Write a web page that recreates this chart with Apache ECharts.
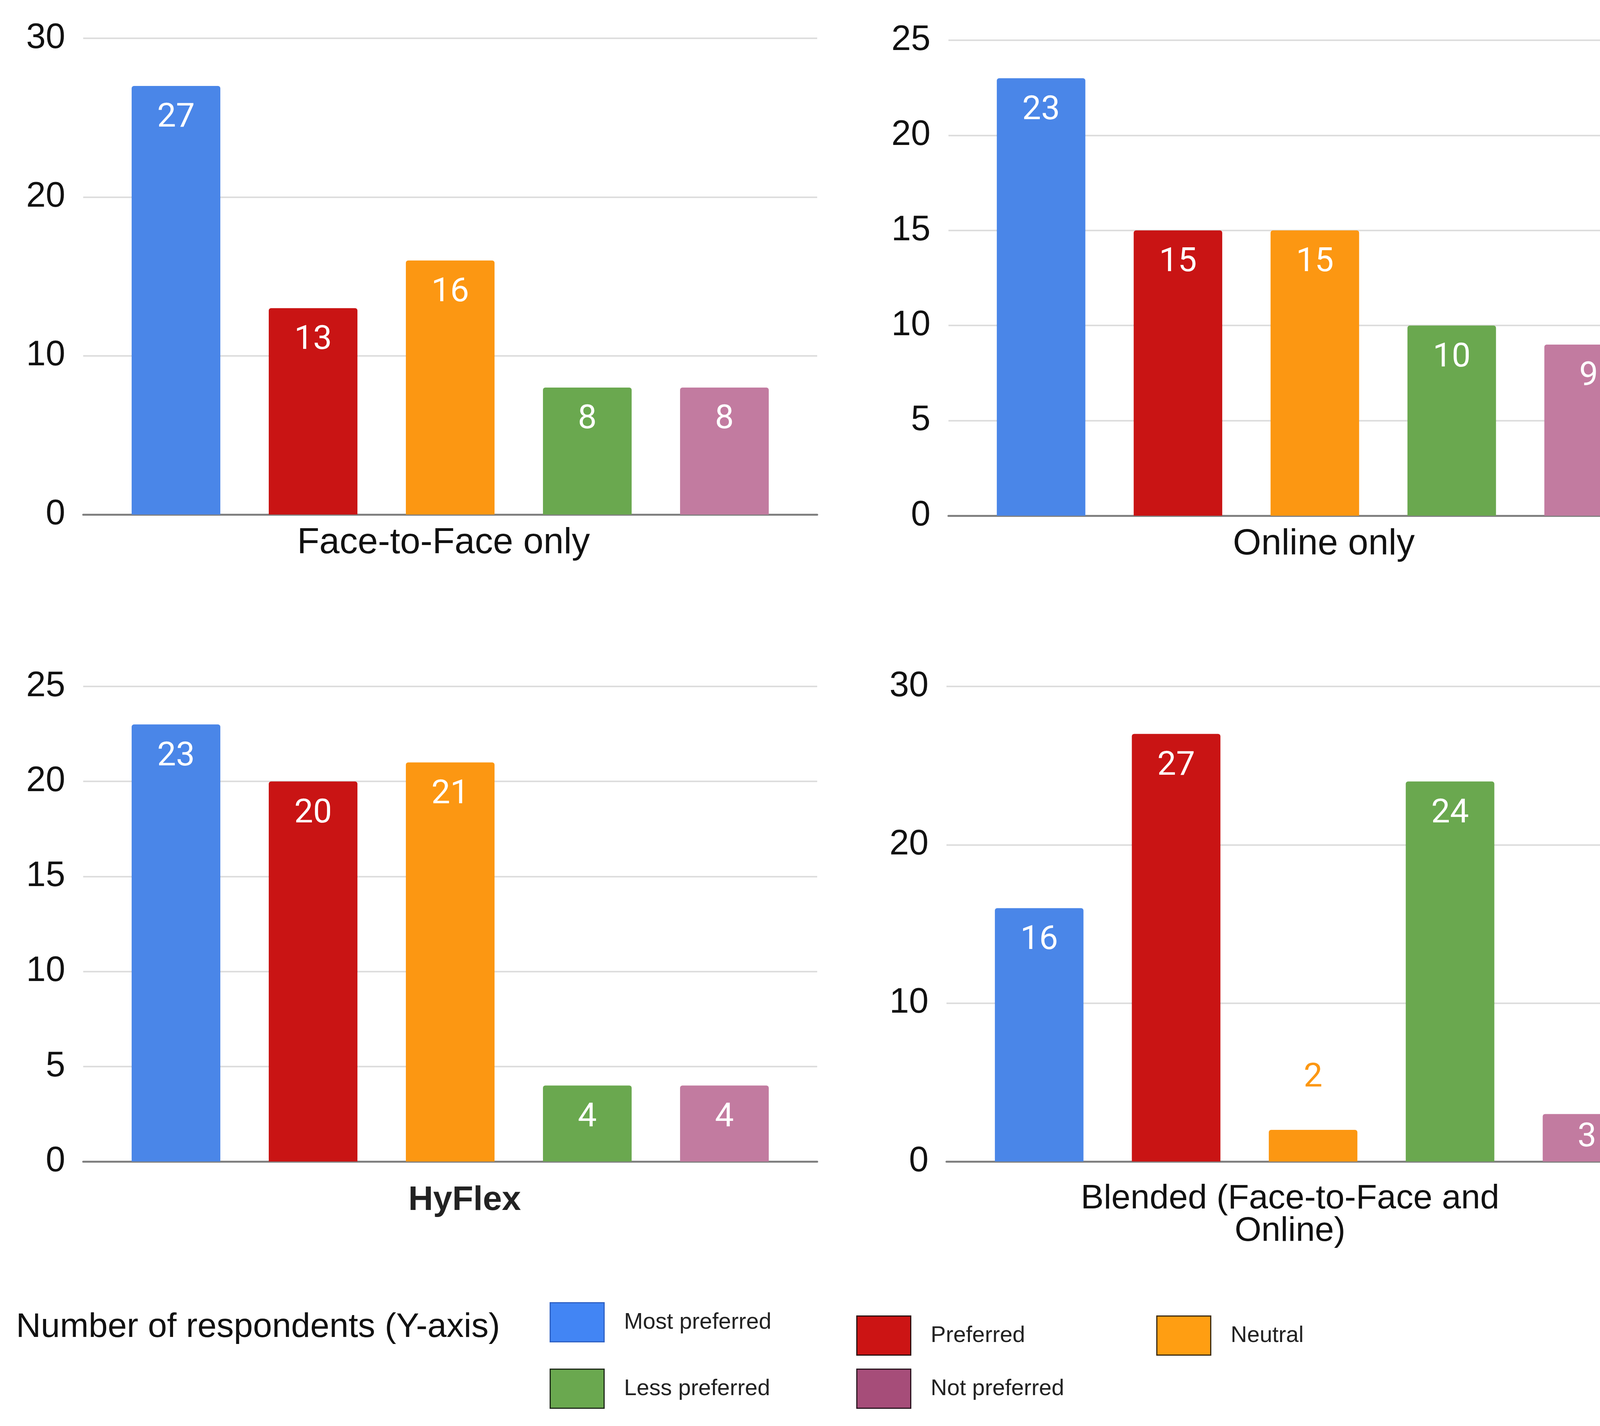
<!DOCTYPE html>
<html>
<head>
<meta charset="utf-8">
<script src="https://cdn.jsdelivr.net/npm/echarts@6/dist/echarts.min.js"></script>
<style>
html,body{margin:0;padding:0;background:#fff;overflow:hidden;}
#chart{width:4334px;height:3650px;}
</style>
</head>
<body>
<div id="chart"></div>
<script>
// ---- data ----
const categories = ['Face-to-Face only', 'Online only', 'HyFlex', 'Blended (Face-to-Face and\nOnline)'];
const seriesNames = ['Most preferred', 'Preferred', 'Neutral', 'Less preferred', 'Not preferred'];
const mostPreferred = [27, 23, 23, 16];
const preferred     = [13, 15, 20, 27];
const neutral       = [16, 15, 21, 2];
const lessPreferred = [8, 10, 4, 24];
const notPreferred  = [8, 9, 4, 3];
const yMax      = [30, 25, 25, 30];
const yInterval = [10, 5, 5, 10];
const legendTitle = 'Number of respondents (Y-axis)';

const values = [mostPreferred, preferred, neutral, lessPreferred, notPreferred];
const barColors = ['#4A86E8', '#C91414', '#FC9712', '#6AA84F', '#C27BA0'];
const legendColors = ['#4285F4', '#CC1414', '#FF9E12', '#6AA84F', '#A64D79'];
const legendBorders = ['#2F62C4', '#2a1010', '#3a2a10', '#1f2a1a', '#2a1520'];

// ---- layout ----
const grids = [
  {left: 213,  top: 98,   width: 1879, height: 1219},
  {left: 2428, top: 103,  width: 1876, height: 1217},
  {left: 213,  top: 1757, width: 1879, height: 1216},
  {left: 2423, top: 1757, width: 1877, height: 1216}
];
const catLabelStyle = [
  {fontSize: 93, margin: 27, padding: [0, 34, 0, 0], fontWeight: 'normal', color: '#111'},
  {fontSize: 93, margin: 27, padding: [0, 0, 0, 46], fontWeight: 'normal', color: '#111'},
  {fontSize: 88, margin: 56, padding: [0, 0, 0, 74], fontWeight: 'bold', color: '#222'},
  {fontSize: 88, margin: 54, padding: [0, 118, 0, 0], fontWeight: 'normal', color: '#111', lineHeight: 83}
];
const legendPos = [
  {left: 1407, top: 3333},
  {left: 2192, top: 3367},
  {left: 2960, top: 3367},
  {left: 1407, top: 3503},
  {left: 2192, top: 3503}
];

const xAxes = categories.map((c, p) => ({
  type: 'category',
  gridIndex: p,
  data: [c],
  axisTick: {show: false},
  axisLine: {lineStyle: {color: '#808080', width: 5}},
  axisLabel: Object.assign({fontFamily: 'Liberation Sans', interval: 0}, catLabelStyle[p])
}));
const yAxes = categories.map((c, p) => ({
  type: 'value',
  gridIndex: p,
  min: 0,
  max: yMax[p],
  interval: yInterval[p],
  axisLine: {show: false},
  axisTick: {show: false},
  axisLabel: {fontSize: 90, margin: 46, color: '#111', fontFamily: 'Liberation Sans'},
  splitLine: {lineStyle: {color: '#dddddd', width: 4}}
}));

function makeItem(v, p, s) {
  const ratio = v / yMax[p];
  if (ratio < 0.08) {
    return {value: v, label: {position: 'top', distance: 89, color: barColors[s]}};
  } else if (ratio < 0.13) {
    return {value: v, label: {position: 'inside'}};
  }
  return {value: v};
}

const series = [];
seriesNames.forEach((name, s) => {
  categories.forEach((c, p) => {
    series.push({
      type: 'bar',
      name: name,
      xAxisIndex: p,
      yAxisIndex: p,
      barGap: '54.6%',
      barCategoryGap: '13.2%',
      itemStyle: {color: barColors[s], borderRadius: [6, 6, 0, 0]},
      label: {
        show: true,
        position: 'insideTop',
        distance: 40,
        color: '#ffffff',
        fontSize: 86,
        fontFamily: 'Roboto'
      },
      emphasis: {disabled: true},
      data: [makeItem(values[s][p], p, s)]
    });
  });
});

const legends = seriesNames.map((name, s) => ({
  data: [{name: name, itemStyle: {color: legendColors[s], borderColor: legendBorders[s], borderWidth: 3}}],
  left: legendPos[s].left,
  top: legendPos[s].top,
  padding: 0,
  icon: 'rect',
  itemWidth: 138,
  itemHeight: 100,
  selectedMode: false,
  textStyle: {
    fontFamily: "'Liberation Sans Narrow', 'Arial Narrow', 'Liberation Sans'",
    fontSize: 58,
    color: '#222',
    padding: [0, 0, 0, 46]
  }
}));

const chart = echarts.init(document.getElementById('chart'));
chart.setOption({
  backgroundColor: '#ffffff',
  animation: false,
  title: {
    text: legendTitle,
    left: 41,
    top: 3354,
    padding: 0,
    textStyle: {fontFamily: 'Liberation Sans', fontSize: 88, fontWeight: 'normal', color: '#111', lineHeight: 88}
  },
  legend: legends,
  grid: grids,
  xAxis: xAxes,
  yAxis: yAxes,
  series: series
});
</script>
</body>
</html>
